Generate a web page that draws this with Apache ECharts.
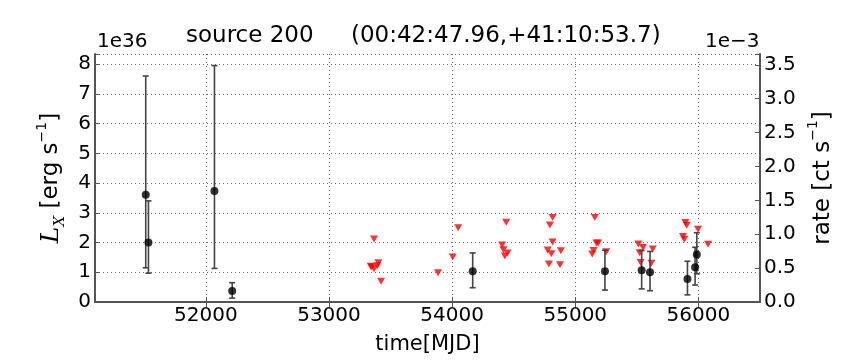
<!DOCTYPE html>
<html>
<head>
<meta charset="utf-8">
<script src="https://cdn.jsdelivr.net/npm/echarts@6/dist/echarts.min.js"></script>
<style>
  html, body { margin: 0; padding: 0; background: #fff; }
  #chart { width: 864px; height: 360px; }
</style>
</head>
<body>
<div id="chart"></div>
<script>
// detections (L_X in 1e36 erg/s) with error bars
const detMjd = [51512, 51534, 52070, 52214, 54167, 55241, 55539, 55607, 55911, 55973, 55987];
const detLum = [3.61, 2.00, 3.73, 0.37, 1.03, 1.03, 1.07, 1.00, 0.77, 1.17, 1.60];
const detLo  = [1.15, 0.97, 1.13, 0.13, 0.48, 0.40, 0.44, 0.38, 0.24, 0.57, 0.95];
const detHi  = [7.60, 3.40, 7.95, 0.65, 1.65, 1.74, 1.73, 1.70, 1.37, 1.84, 2.33];

// upper limits
const ulMjd = [53366, 53347, 53366, 53339, 53401, 53393, 53423, 53886, 54005, 54049,
               54439, 54406, 54417, 54450, 54428, 54816, 54794, 54816, 54776, 54806,
               54883, 54786, 54876, 55159, 55172, 55186, 55149, 55138, 55252, 55512,
               55550, 55523, 55531, 55629, 55618, 55894, 55905, 55875, 55886, 55997, 56078];
const ulLum = [2.12, 1.18, 1.12, 1.20, 1.32, 1.22, 0.70, 0.98, 1.51, 2.50,
               2.68, 1.92, 1.76, 1.65, 1.55, 2.84, 2.59, 2.02, 1.75, 1.62,
               1.72, 1.28, 1.25, 2.84, 1.98, 1.98, 1.73, 1.61, 1.69, 1.95,
               1.83, 1.66, 1.33, 1.78, 1.30, 2.67, 2.58, 2.20, 2.11, 2.45, 1.94];

const xTicks = [52000, 53000, 54000, 55000, 56000];
const xMin = 51100, xMax = 56500;
const lMax = 8.34, rateMax = 3.66;

const font = 'DejaVu Sans';
const frame = '#555';

const chart = echarts.init(document.getElementById('chart'));

const errData = detMjd.map((m, i) => [m, detLo[i], detHi[i]]);

const option = {
  animation: false,
  backgroundColor: '#fff',
  textStyle: { fontFamily: font },
  grid: { left: 95, right: 104, top: 54, bottom: 55 },
  xAxis: [
    {
      type: 'value', min: xMin, max: xMax, position: 'bottom',
      name: 'time[MJD]', nameLocation: 'middle', nameGap: 32,
      nameTextStyle: { fontSize: 21, color: '#000', fontFamily: font },
      axisLine: { lineStyle: { color: frame, width: 2 } },
      axisTick: { inside: true, length: 5, customValues: xTicks, lineStyle: { color: frame } },
      axisLabel: {
        customValues: xTicks, fontSize: 20, color: '#000', margin: 4, fontFamily: font,
        formatter: v => String(v)
      },
      splitLine: { show: true, lineStyle: { color: '#666', type: [1, 3], width: 1 } }
    },
    {
      type: 'value', min: xMin, max: xMax, position: 'top',
      axisLine: { lineStyle: { color: frame, width: 2 } },
      axisTick: { inside: true, length: 5, customValues: xTicks, lineStyle: { color: frame } },
      axisLabel: { show: false },
      splitLine: { show: false }
    }
  ],
  yAxis: [
    {
      type: 'value', min: 0, max: lMax, interval: 1, position: 'left',
      name: '{L|L}{X|X} [erg s{sup|−1}]',
      nameLocation: 'middle', nameRotate: 90, nameGap: 22,
      nameTextStyle: {
        fontSize: 23, color: '#000', fontFamily: font,
        rich: {
          L: { fontFamily: 'DejaVu Serif', fontStyle: 'italic', fontSize: 25, color: '#000' },
          X: { fontFamily: 'DejaVu Serif', fontStyle: 'italic', fontSize: 15, color: '#000', verticalAlign: 'bottom', lineHeight: 32 },
          sup: { fontSize: 14, color: '#000', verticalAlign: 'top', lineHeight: 32 }
        }
      },
      axisLine: { show: true, lineStyle: { color: frame, width: 2 } },
      axisTick: { inside: true, length: 5, lineStyle: { color: frame } },
      axisLabel: {
        fontSize: 20, color: '#000', margin: 4, fontFamily: font,
        formatter: v => (Math.abs(v - Math.round(v)) < 1e-9 ? String(Math.round(v)) : '')
      },
      splitLine: { show: true, lineStyle: { color: '#666', type: [1, 3], width: 1 } }
    },
    {
      type: 'value', min: 0, max: rateMax, interval: 0.5, position: 'right',
      alignTicks: false,
      name: 'rate [ct s{sup|−1}]',
      nameLocation: 'middle', nameRotate: 90, nameGap: 42,
      nameTextStyle: {
        fontSize: 23, color: '#000', fontFamily: font,
        rich: { sup: { fontSize: 14, color: '#000', verticalAlign: 'top', lineHeight: 32 } }
      },
      axisLine: { show: true, lineStyle: { color: frame, width: 2 } },
      axisTick: { inside: true, length: 5, lineStyle: { color: frame } },
      axisLabel: {
        fontSize: 20, color: '#000', margin: 4, fontFamily: font,
        formatter: v => (Math.abs(v * 2 - Math.round(v * 2)) < 1e-9 ? v.toFixed(1) : '')
      },
      splitLine: { show: false }
    }
  ],
  graphic: [
    { type: 'text', left: 97, top: 32, style: { text: '1e36', font: '20px "DejaVu Sans"', fill: '#000' } },
    { type: 'text', left: 705, top: 32, style: { text: '1e−3', font: '20px "DejaVu Sans"', fill: '#000' } },
    { type: 'text', left: 186, top: 25, style: { text: 'source 200', font: '23px "DejaVu Sans"', fill: '#000' } },
    { type: 'text', left: 351, top: 25, style: { text: '(00:42:47.96,+41:10:53.7)', font: '23px "DejaVu Sans"', fill: '#000' } }
  ],
  series: [
    {
      type: 'scatter', name: 'upper limits',
      xAxisIndex: 0, yAxisIndex: 0,
      symbol: 'triangle', symbolRotate: 180, symbolSize: [8, 7],
      itemStyle: { color: '#ff0000' },
      data: ulMjd.map((m, i) => [m, ulLum[i]]),
      z: 3
    },
    {
      type: 'custom', name: 'errors',
      xAxisIndex: 0, yAxisIndex: 0,
      renderItem: (params, api) => {
        const x = api.value(0);
        const lo = api.coord([x, api.value(1)]);
        const hi = api.coord([x, api.value(2)]);
        const cap = 3;
        const style = { stroke: '#444', lineWidth: 1.6 };
        return {
          type: 'group',
          children: [
            { type: 'line', shape: { x1: lo[0], y1: lo[1], x2: hi[0], y2: hi[1] }, style },
            { type: 'line', shape: { x1: lo[0] - cap, y1: lo[1], x2: lo[0] + cap, y2: lo[1] }, style },
            { type: 'line', shape: { x1: hi[0] - cap, y1: hi[1], x2: hi[0] + cap, y2: hi[1] }, style }
          ]
        };
      },
      data: errData,
      z: 4
    },
    {
      type: 'scatter', name: 'detections',
      xAxisIndex: 0, yAxisIndex: 0,
      symbol: 'circle', symbolSize: 8,
      itemStyle: { color: '#000' },
      data: detMjd.map((m, i) => [m, detLum[i]]),
      z: 5
    }
  ]
};

chart.setOption(option);
</script>
</body>
</html>
